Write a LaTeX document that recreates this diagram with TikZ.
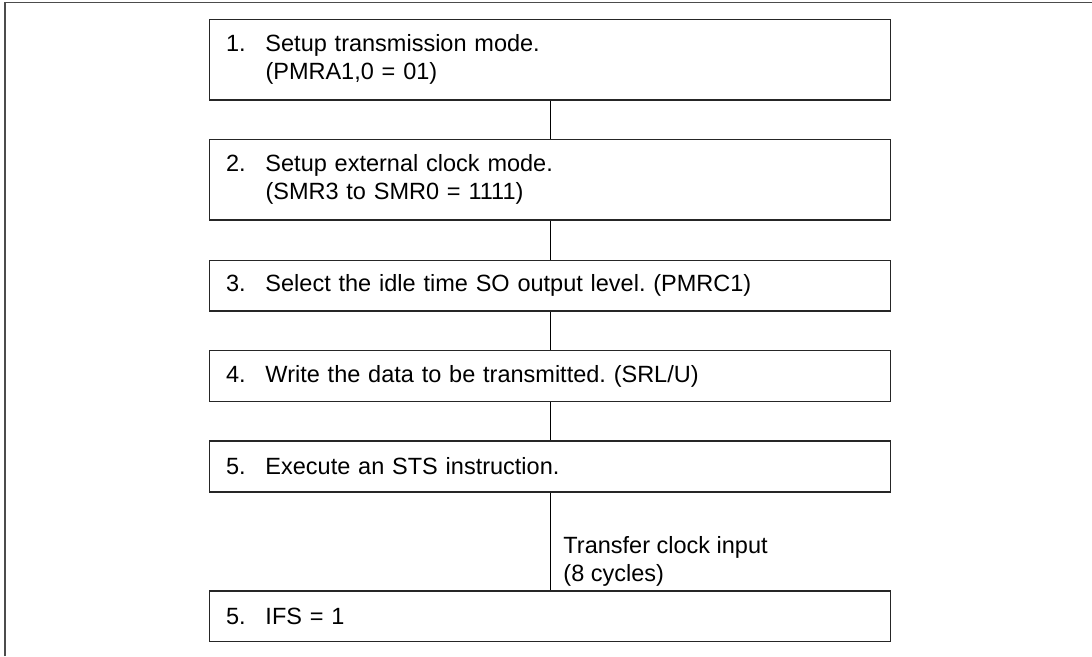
\documentclass[tikz,border=0pt]{standalone}
\usepackage{fontspec}
\setmainfont{Liberation Sans}
\frenchspacing
\begin{document}
\begin{tikzpicture}[x=1pt,y=-1pt,
  stepbox/.style={draw=black!85, line width=1.2pt, rectangle, minimum width=681pt,
    inner xsep=16.5pt, inner ysep=0pt, text width=648pt, align=left,
    font=\fontsize{23.5}{28}\selectfont\frenchspacing},
  conn/.style={draw=black, line width=0.9pt},
  frame/.style={draw=black!70, line width=1.6pt}]
\newcommand{\num}[1]{\makebox[39.5pt][l]{#1}}
\useasboundingbox (0,0) rectangle (1092,656);
\draw[frame] (5,656) -- (5,2.6) -- (1092,2.6);
\node[stepbox, minimum height=80.5pt] (b1) at (550,59.75)
  {\num{1.}Setup transmission mode.\\\num{}(PMRA1,0 = 01)};
\node[stepbox, minimum height=80.5pt] (b2) at (550,179.75)
  {\num{2.}Setup external clock mode.\\\num{}(SMR3 to SMR0 = 1111)};
\node[stepbox, minimum height=50.5pt] (b3) at (550,285.75)
  {\num{3.}Select the idle time SO output level. (PMRC1)};
\node[stepbox, minimum height=51pt] (b4) at (550,376)
  {\num{4.}Write the data to be transmitted. (SRL/U)};
\node[stepbox, minimum height=51pt] (b5) at (550,466.5)
  {\num{5.}Execute an STS instruction.};
\node[stepbox, minimum height=50.5pt] (b6) at (550,616.25)
  {\num{5.}IFS = 1};
\draw[conn] (b1.south) -- (b2.north);
\draw[conn] (b2.south) -- (b3.north);
\draw[conn] (b3.south) -- (b4.north);
\draw[conn] (b4.south) -- (b5.north);
\draw[conn] (b5.south) -- node[pos=0.7, anchor=west, xshift=13pt, align=left,
  inner sep=0pt, font=\fontsize{23.5}{28}\selectfont] (lbl)
  {Transfer clock input\\(8 cycles)} (b6.north);
\end{tikzpicture}
\end{document}
